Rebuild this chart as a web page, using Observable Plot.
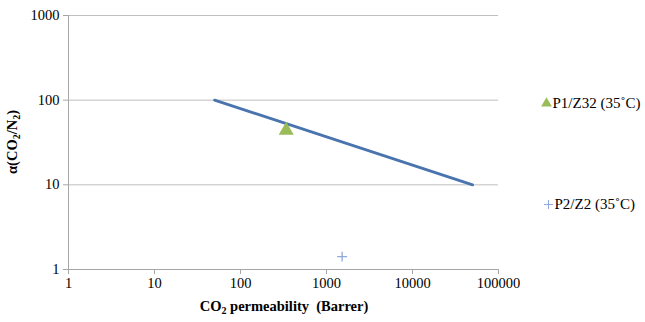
<!DOCTYPE html>
<html>
<head>
<meta charset="utf-8">
<script src="https://cdn.jsdelivr.net/npm/d3@7"></script>
<script src="https://cdn.jsdelivr.net/npm/@observablehq/plot@0.6"></script>
<style>
  html, body { margin: 0; padding: 0; background: #fff; }
  #chart { width: 645px; height: 322px; }
  #chart svg text { font-family: "Liberation Serif", "Times New Roman", serif !important; }
</style>
</head>
<body>
<div id="chart"></div>
<script>
// Upper bound line (Robeson-like)
const boundPerm = [50, 50000];
const boundSel = [100, 10];

// Series points
const seriesNames = ["P1/Z32 (35˚C)", "P2/Z2 (35˚C)"];
const seriesPerm = [340, 1520];
const seriesSel = [44, 1.42];
const seriesColors = ["#9BBB59", "#8FAADC"];
const seriesSymbols = ["triangle", "plus"];

const xTicks = [1, 10, 100, 1000, 10000, 100000];
const yTicks = [1, 10, 100, 1000];

const bound = boundPerm.map((p, i) => ({perm: p, sel: boundSel[i]}));
const pts = seriesNames.map((n, i) => ({name: n, perm: seriesPerm[i], sel: seriesSel[i], idx: i}));

const font = "\"Liberation Serif\", \"Times New Roman\", serif";

const chart = Plot.plot({
  width: 645,
  height: 322,
  marginLeft: 68,
  marginRight: 147,
  marginTop: 15,
  marginBottom: 53,
  style: {fontFamily: font, fontSize: "14.5px", color: "#000", background: "#fff"},
  x: {type: "log", domain: [1, 100000], ticks: xTicks, tickFormat: d => String(d), label: null},
  y: {type: "log", domain: [1, 1000], ticks: yTicks, tickFormat: d => String(d), label: null},
  marks: [
    Plot.gridY(yTicks.filter(d => d > 1), {stroke: "#bfbfbf", strokeOpacity: 1, strokeWidth: 1}),
    Plot.ruleX([1], {stroke: "#a6a6a6", strokeWidth: 1}),
    Plot.ruleY([1], {stroke: "#a6a6a6", strokeWidth: 1}),
    Plot.axisX({ticks: xTicks, tickFormat: d => String(d), tickSize: 5, stroke: "#a6a6a6", tickPadding: 3, fontSize: 14.5, fontFamily: font, fill: "#000", label: null}),
    Plot.axisY({ticks: yTicks, tickFormat: d => String(d), tickSize: 5, stroke: "#a6a6a6", tickPadding: 4, fontSize: 14.5, fontFamily: font, fill: "#000", label: null}),
    Plot.line(bound, {x: "perm", y: "sel", stroke: "#4A74AD", strokeWidth: 2.8}),
    Plot.dot(pts.filter(d => d.idx === 0), {x: "perm", y: "sel", symbol: seriesSymbols[0], fill: seriesColors[0], stroke: "none", r: 5.6}),
    Plot.dot(pts.filter(d => d.idx === 1), {x: "perm", y: "sel", symbol: seriesSymbols[1], fill: "none", stroke: seriesColors[1], r: 3.3, strokeWidth: 1.3}),
    // legend
    Plot.dot([seriesNames[0]], {frameAnchor: "top-right", dx: 48, dy: 88, symbol: "triangle", fill: seriesColors[0], r: 4}),
    Plot.text([seriesNames[0]], {text: d => d, frameAnchor: "top-right", lineAnchor: "middle", dx: 54, dy: 88, textAnchor: "start", fontSize: 15, fontFamily: font, fill: "#000"}),
    Plot.dot([seriesNames[1]], {frameAnchor: "top-right", dx: 50, dy: 189, symbol: "plus", stroke: seriesColors[1], r: 3, strokeWidth: 1.1}),
    Plot.text([seriesNames[1]], {text: d => d, frameAnchor: "top-right", lineAnchor: "middle", dx: 56, dy: 189, textAnchor: "start", fontSize: 15, fontFamily: font, fill: "#000"})
  ]
});

const svg = d3.select(chart);
// axis titles with subscripts
const xt = svg.append("text")
  .attr("x", 284).attr("y", 311)
  .attr("text-anchor", "middle")
  .style("font-family", font).style("font-size", "14.5px").attr("font-weight", "bold").attr("fill", "#000");
xt.append("tspan").text("CO");
xt.append("tspan").style("font-size", "10px").attr("dy", 3).text("2");
xt.append("tspan").attr("dy", -3).text(" permeability  (Barrer)");

const yt = svg.append("text")
  .attr("transform", "translate(17,142) rotate(-90)")
  .attr("text-anchor", "middle")
  .style("font-family", font).style("font-size", "14.5px").attr("font-weight", "bold").attr("fill", "#000");
yt.append("tspan").text("α(CO");
yt.append("tspan").style("font-size", "10px").attr("dy", 3).text("2");
yt.append("tspan").attr("dy", -3).text("/N");
yt.append("tspan").style("font-size", "10px").attr("dy", 3).text("2");
yt.append("tspan").attr("dy", -3).text(")");

document.getElementById("chart").appendChild(chart);
</script>
</body>
</html>
